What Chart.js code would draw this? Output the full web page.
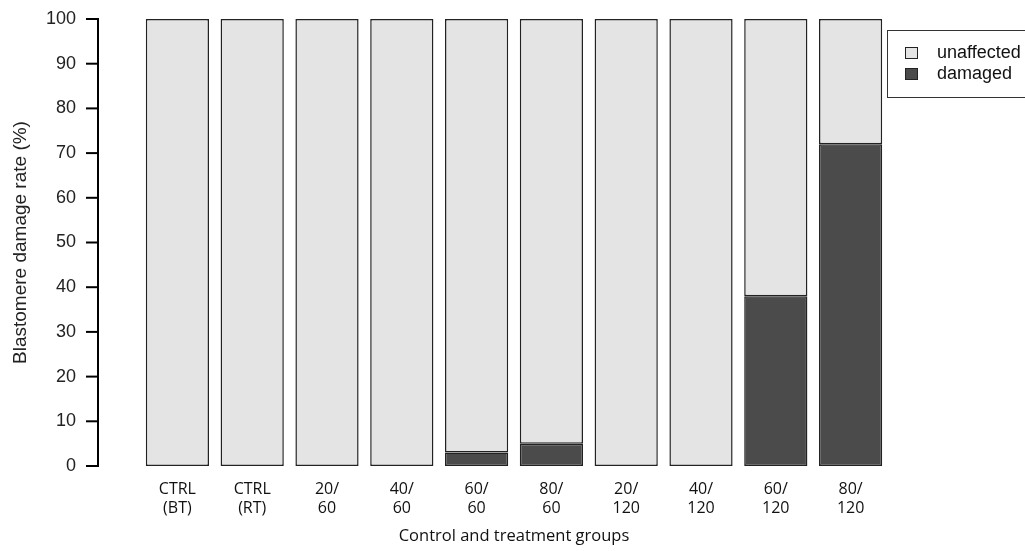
<!DOCTYPE html>
<html>
<head>
<meta charset="utf-8">
<script src="https://cdn.jsdelivr.net/npm/chart.js@4.4.1/dist/chart.umd.min.js"></script>
<style>
  html, body { margin: 0; padding: 0; background: #fff; }
  #wrap { width: 1025px; height: 551px; position: relative; }
</style>
</head>
<body>
<div id="wrap"><canvas id="grafico"></canvas></div>
<script>
// grupos de control y tratamiento
const grupos = [
  ['CTRL', '(BT)'], ['CTRL', '(RT)'],
  ['20/', '60'], ['40/', '60'], ['60/', '60'], ['80/', '60'],
  ['20/', '120'], ['40/', '120'], ['60/', '120'], ['80/', '120']
];
const damaged = [0, 0, 0, 0, 3, 5, 0, 0, 38, 72];
const unaffected = [100, 100, 100, 100, 97, 95, 100, 100, 62, 28];
const yTicks = [0, 10, 20, 30, 40, 50, 60, 70, 80, 90, 100];

const canvas = document.getElementById('grafico');

// eje y estilo R: separado del area del grafico
const ejeY = {
  id: 'ejeY',
  afterDraw(chart) {
    const ctx = chart.ctx;
    const y = chart.scales.y;
    const xEje = 98;
    ctx.save();
    ctx.strokeStyle = '#000';
    ctx.lineWidth = 2;
    ctx.beginPath();
    ctx.moveTo(xEje, y.getPixelForValue(0) + 1);
    ctx.lineTo(xEje, y.getPixelForValue(100) - 1);
    ctx.stroke();
    y.ticks.forEach(t => {
      const py = y.getPixelForValue(t.value);
      ctx.beginPath();
      ctx.moveTo(86, py);
      ctx.lineTo(xEje, py);
      ctx.stroke();
    });
    ctx.restore();
  }
};

// leyenda con recuadro
const leyenda = {
  id: 'leyenda',
  afterDraw(chart) {
    const ctx = chart.ctx;
    const sets = chart.data.datasets.slice().reverse();
    ctx.save();
    ctx.strokeStyle = '#333';
    ctx.lineWidth = 1;
    ctx.strokeRect(887.5, 30.5, 150, 67);
    ctx.font = '18px "Liberation Sans", Arial, sans-serif';
    ctx.textBaseline = 'middle';
    ctx.fillStyle = '#111';
    sets.forEach((ds, i) => {
      const cy = 53 + i * 21;
      ctx.fillStyle = ds.backgroundColor;
      ctx.fillRect(905, cy - 6, 13, 12);
      ctx.strokeStyle = '#222';
      ctx.strokeRect(905.5, cy - 5.5, 12, 11);
      ctx.fillStyle = '#111';
      ctx.fillText(ds.label, 937, cy);
    });
    ctx.restore();
  }
};

new Chart(canvas, {
  type: 'bar',
  data: {
    labels: grupos,
    datasets: [
      {
        label: 'damaged',
        data: damaged,
        backgroundColor: '#4b4b4b',
        borderColor: '#222',
        borderWidth: 1.5,
        borderSkipped: false
      },
      {
        label: 'unaffected',
        data: unaffected,
        backgroundColor: '#e4e4e4',
        borderColor: '#222',
        borderWidth: 1.5,
        borderSkipped: false
      }
    ]
  },
  options: {
    responsive: true,
    maintainAspectRatio: false,
    animation: false,
    devicePixelRatio: 1,
    layout: { padding: { top: 19, right: 137, left: 0, bottom: 0 } },
    datasets: { bar: { categoryPercentage: 1, barPercentage: 0.845 } },
    plugins: {
      legend: { display: false },
      tooltip: { enabled: false }
    },
    scales: {
      x: {
        stacked: true,
        grid: { display: false, drawTicks: false },
        border: { display: false },
        ticks: {
          color: '#111',
          padding: 14,
          maxRotation: 0,
          autoSkip: false,
          font: { family: '"Open Sans", sans-serif', size: 16, lineHeight: 1.2 }
        },
        title: {
          display: true,
          text: 'Control and treatment groups',
          color: '#111',
          font: { family: '"Open Sans", sans-serif', size: 16.5, lineHeight: 1.2 },
          padding: { top: 0, bottom: 5 }
        },
        afterFit(scale) { scale.height = 85; }
      },
      y: {
        stacked: true,
        min: 0,
        max: 100,
        afterBuildTicks(scale) { scale.ticks = yTicks.map(v => ({ value: v })); },
        grid: { display: false, drawTicks: false },
        border: { display: false },
        ticks: {
          color: '#222',
          padding: 64,
          font: { family: '"Liberation Sans", Arial, sans-serif', size: 18 }
        },
        title: {
          display: true,
          text: 'Blastomere damage rate (%)',
          color: '#222',
          font: { family: '"Liberation Sans", Arial, sans-serif', size: 19, lineHeight: 1.2 },
          padding: { top: 9, bottom: 0 }
        },
        afterFit(scale) {
          scale.width = 140;
          scale.paddingTop = 0;
          scale.paddingBottom = 0;
        }
      }
    }
  },
  plugins: [ejeY, leyenda]
});
</script>
</body>
</html>
